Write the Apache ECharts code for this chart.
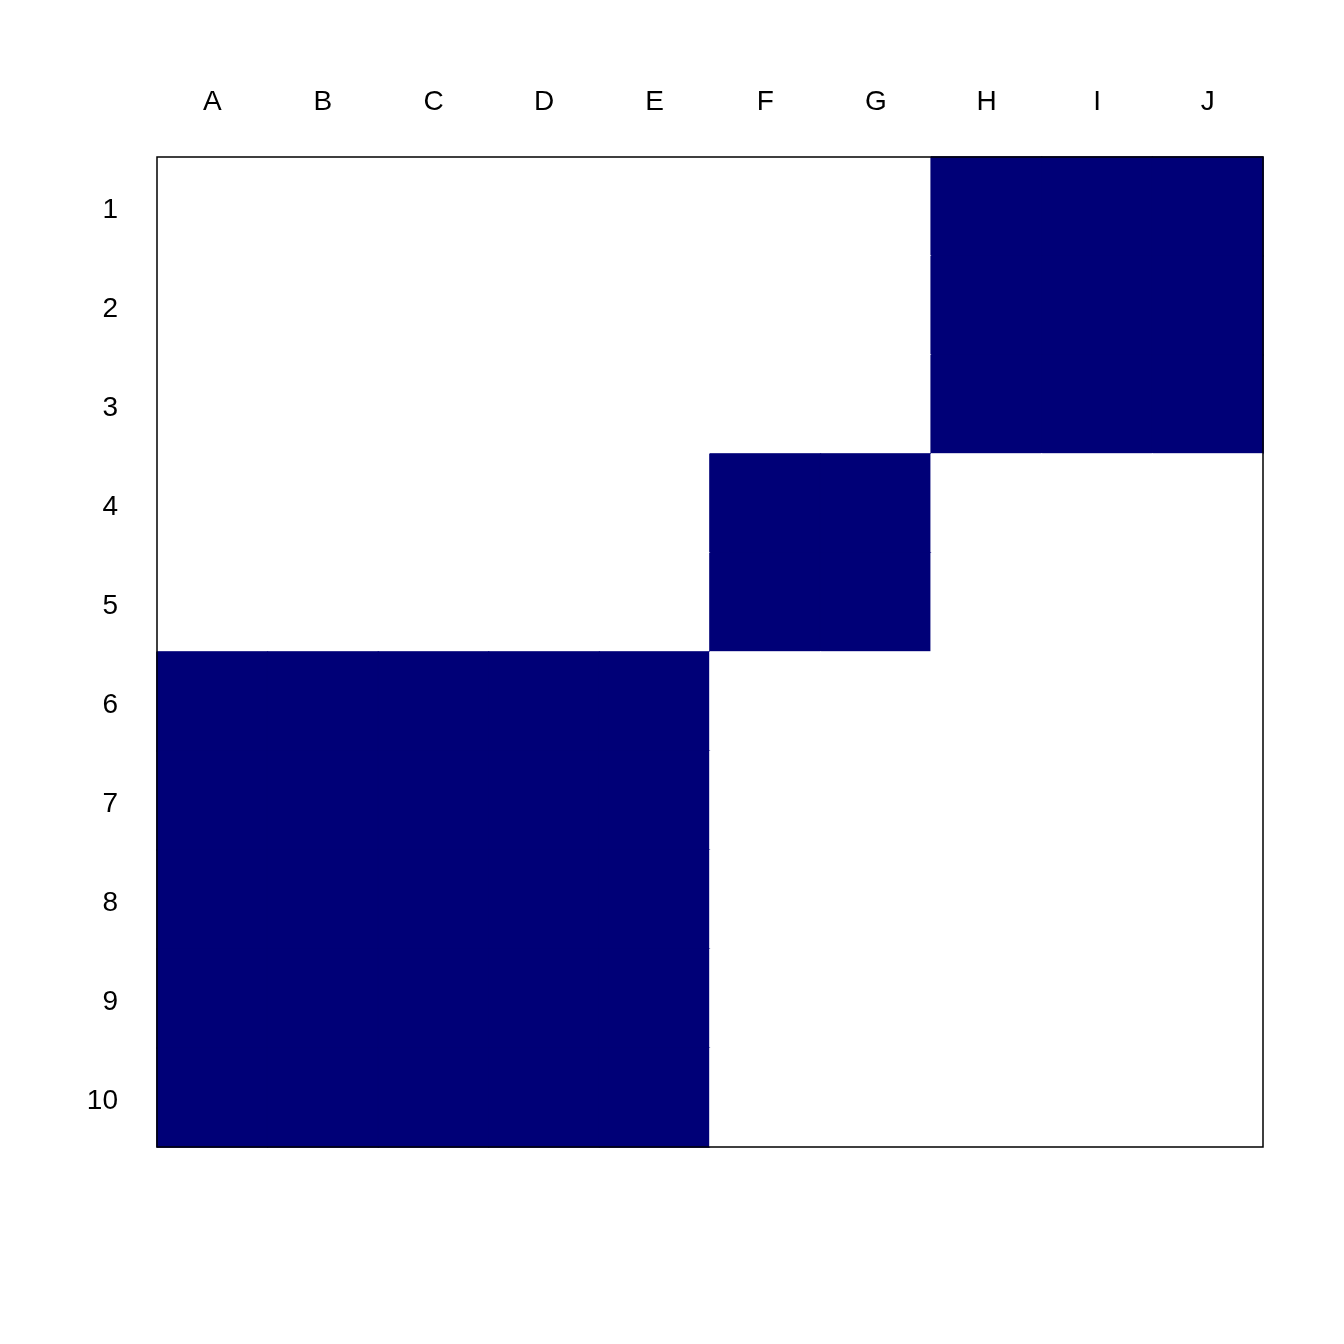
<!DOCTYPE html>
<html><head><meta charset="utf-8">
<script src="https://cdn.jsdelivr.net/npm/echarts@6/dist/echarts.min.js"></script>
<style>html,body{margin:0;padding:0;background:#fff}#c{width:1344px;height:1344px}</style>
</head><body><div id="c"></div>
<script>
const colLabels = ['A','B','C','D','E','F','G','H','I','J'];
const rowLabels = ['1','2','3','4','5','6','7','8','9','10'];
const palette = ['#ffffff', '#000077'];
const matrix = [
  [0,0,0,0,0,0,0,1,1,1],
  [0,0,0,0,0,0,0,1,1,1],
  [0,0,0,0,0,0,0,1,1,1],
  [0,0,0,0,0,1,1,0,0,0],
  [0,0,0,0,0,1,1,0,0,0],
  [1,1,1,1,1,0,0,0,0,0],
  [1,1,1,1,1,0,0,0,0,0],
  [1,1,1,1,1,0,0,0,0,0],
  [1,1,1,1,1,0,0,0,0,0],
  [1,1,1,1,1,0,0,0,0,0]
];
const data = [];
matrix.forEach((row, r) => row.forEach((v, c) => data.push({
  value: [c, r, v],
  itemStyle: {color: palette[v], borderColor: palette[v], borderWidth: 1}
})));
const chart = echarts.init(document.getElementById('c'), null, {renderer: 'canvas'});
chart.setOption({
  backgroundColor: '#fff',
  animation: false,
  textStyle: {fontFamily: 'Liberation Sans, Arial, sans-serif'},
  grid: {left: 157, top: 157, width: 1106, height: 990, show: true, borderColor: '#000', borderWidth: 1.5, backgroundColor: 'transparent', z: 10},
  xAxis: {type: 'category', data: colLabels, position: 'top',
    axisLine: {show: false}, axisTick: {show: false}, splitLine: {show: false},
    axisLabel: {fontSize: 28, color: '#000', margin: 41, fontFamily: 'Liberation Sans, Arial, sans-serif'}},
  yAxis: {type: 'category', data: rowLabels, inverse: true,
    axisLine: {show: false}, axisTick: {show: false}, splitLine: {show: false},
    axisLabel: {color: '#000', margin: 39, formatter: '{v|{value}}',
      rich: {v: {fontSize: 28, color: '#000', padding: [8, 0, 0, 0], fontFamily: 'Liberation Sans, Arial, sans-serif'}}}},
  series: [{type: 'heatmap', data: data, emphasis: {disabled: true}, z: 2}]
});
</script></body></html>
